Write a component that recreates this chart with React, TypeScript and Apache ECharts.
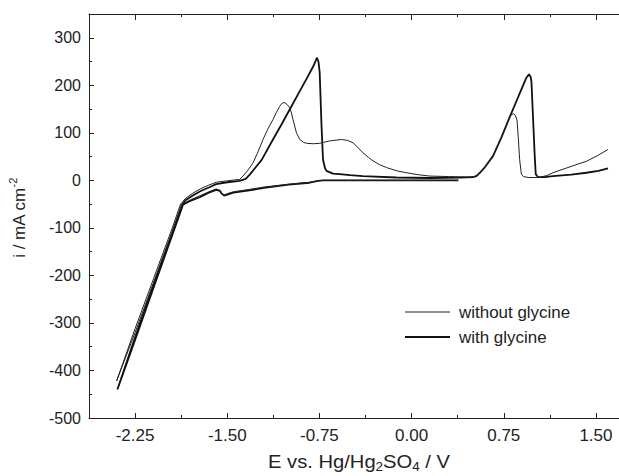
import React, { useEffect, useRef } from 'react';
import * as echarts from 'echarts';

// ---- data ----
const seriesNames = ['without glycine', 'with glycine'];

// with glycine (thick line): potential E (V) and current i (mA cm-2)
const withGlycineE = [
  0.38, 0.0, -0.40, -0.72, -0.76, -0.83, -1.0, -1.2, -1.32, -1.45, -1.50, -1.525, -1.545, -1.56, -1.59, -1.65, -1.72, -1.80, -1.86, -1.95, -2.10, -2.25, -2.394,
  -2.25, -2.10, -1.95, -1.87, -1.84, -1.78, -1.72, -1.65, -1.59, -1.50, -1.40, -1.35, -1.317, -1.28, -1.22, -1.128, -1.06, -0.992, -0.92, -0.856, -0.80, -0.78, -0.770, -0.758, -0.748, -0.734, -0.721, -0.705, -0.693, -0.64, -0.585, -0.50, -0.396, -0.124, 0.15, 0.40, 0.50,
  0.527, 0.56, 0.60, 0.662, 0.73, 0.798, 0.87, 0.934, 0.955, 0.968, 0.975, 0.990, 1.002, 1.010, 1.028, 1.08, 1.15, 1.30, 1.422, 1.52, 1.598,
];
const withGlycineI = [
  0, 0, 0, 0, -1, -5, -9, -16, -21, -26, -30, -32, -28, -22, -20, -26, -35, -43, -51, -117, -226, -336, -440,
  -330, -220, -112, -52, -42, -32, -23, -15, -8, -4, -1, 3, 12, 24, 43, 86, 117, 149, 183, 213, 240, 252, 258, 250, 227, 121, 44, 26, 20, 14, 13, 11, 9, 6, 5, 6, 7,
  9, 17, 29, 51, 90, 133, 177, 216, 223, 218, 208, 120, 50, 13, 7, 7, 9, 12, 16, 20, 25,
];

// without glycine (thin line)
const withoutGlycineE = [
  0.38, 0.0, -0.40, -0.72, -0.76, -0.83, -1.0, -1.2, -1.32, -1.45, -1.50, -1.525, -1.545, -1.56, -1.59, -1.65, -1.72, -1.80, -1.865, -1.95, -2.10, -2.25, -2.40,
  -2.25, -2.10, -1.95, -1.88, -1.84, -1.78, -1.72, -1.65, -1.59, -1.50, -1.40, -1.372, -1.33, -1.29, -1.25, -1.209, -1.17, -1.128, -1.10, -1.073, -1.055, -1.038, -1.015, -0.992, -0.978, -0.965, -0.937, -0.91, -0.88, -0.856, -0.80, -0.747, -0.666, -0.571, -0.52, -0.477, -0.44, -0.396, -0.35, -0.314, -0.26, -0.205, -0.12, -0.042, 0.05, 0.147, 0.30, 0.45,
  0.51, 0.54, 0.58, 0.62, 0.662, 0.73, 0.798, 0.815, 0.831, 0.845, 0.858, 0.868, 0.879, 0.893, 0.91, 0.95, 1.03, 1.10, 1.15, 1.25, 1.35, 1.422, 1.52, 1.598,
];
const withoutGlycineI = [
  0, 0, 0, 0, -1, -4, -8, -14, -19, -24, -28, -31, -27, -21, -18, -24, -32, -41, -50, -110, -215, -320, -422,
  -312, -207, -102, -50, -38, -27, -18, -10, -4, -1, 2, 9, 22, 37, 60, 86, 108, 128, 143, 156, 162, 164, 160, 153, 142, 128, 100, 86, 80, 78, 77, 78, 83, 86, 84, 79, 70, 58, 48, 41, 33, 27, 20, 16, 12, 9, 8, 7,
  8, 12, 22, 36, 51, 90, 133, 139, 140, 136, 126, 90, 44, 13, 8, 6, 6, 10, 16, 25, 34, 40, 53, 65,
];

const xMajorTicks = [-2.25, -1.5, -0.75, 0, 0.75, 1.5];
const xMinorTicks = [-2.625, -1.875, -1.125, -0.375, 0.375, 1.125];
const yMajorTicks = [-500, -400, -300, -200, -100, 0, 100, 200, 300];
const yMinorTicks = [-450, -350, -250, -150, -50, 50, 150, 250];

const FONT = 'Liberation Sans, Arial, Helvetica, sans-serif';
const AXIS_COLOR = '#222';

function zip(xs: number[], ys: number[]) {
  return xs.map((x, k) => [x, ys[k]]);
}

export default function App() {
  const ref = useRef<HTMLDivElement>(null);

  useEffect(() => {
    if (!ref.current) return;
    const chart = echarts.init(ref.current, undefined, { renderer: 'svg' });

    const xBase = {
      type: 'value' as const,
      min: -2.625,
      max: 1.6875,
      gridIndex: 0,
      splitLine: { show: false },
    };
    const yBase = {
      type: 'value' as const,
      min: -500,
      max: 350,
      gridIndex: 0,
      splitLine: { show: false },
    };

    const option: any = {
      animation: false,
      backgroundColor: '#fff',
      grid: { left: 89, right: 0, top: 14, bottom: 58, containLabel: false },
      xAxis: [
        {
          ...xBase,
          position: 'bottom',
          axisLine: { show: true, onZero: false, lineStyle: { color: AXIS_COLOR, width: 1 } },
          axisTick: { show: true, inside: true, length: 5, customValues: xMajorTicks, lineStyle: { color: AXIS_COLOR } },
          axisLabel: {
            customValues: xMajorTicks,
            formatter: (v: number) => v.toFixed(2),
            margin: 9,
            fontSize: 17,
            color: '#222',
            fontFamily: FONT,
          },
        },
        {
          ...xBase,
          position: 'top',
          axisLine: { show: true, onZero: false, lineStyle: { color: AXIS_COLOR, width: 1 } },
          axisTick: { show: true, inside: true, length: 6, customValues: xMajorTicks, lineStyle: { color: AXIS_COLOR } },
          axisLabel: { show: false },
        },
        {
          ...xBase,
          position: 'bottom',
          axisLine: { show: false, onZero: false },
          axisTick: { show: true, inside: true, length: 3, customValues: xMinorTicks, lineStyle: { color: AXIS_COLOR } },
          axisLabel: { show: false },
        },
        {
          ...xBase,
          position: 'top',
          axisLine: { show: false, onZero: false },
          axisTick: { show: true, inside: true, length: 3, customValues: xMinorTicks, lineStyle: { color: AXIS_COLOR } },
          axisLabel: { show: false },
        },
      ],
      yAxis: [
        {
          ...yBase,
          position: 'left',
          axisLine: { show: true, onZero: false, lineStyle: { color: AXIS_COLOR, width: 1 } },
          axisTick: { show: true, inside: true, length: 5, customValues: yMajorTicks, lineStyle: { color: AXIS_COLOR } },
          axisLabel: {
            customValues: yMajorTicks,
            margin: 8,
            fontSize: 16,
            color: '#222',
            fontFamily: FONT,
          },
        },
        {
          ...yBase,
          position: 'left',
          axisLine: { show: false, onZero: false },
          axisTick: { show: true, inside: true, length: 3, customValues: yMinorTicks, lineStyle: { color: AXIS_COLOR } },
          axisLabel: { show: false },
        },
      ],
      series: [
        {
          name: seriesNames[0],
          type: 'line',
          xAxisIndex: 0,
          yAxisIndex: 0,
          data: zip(withoutGlycineE, withoutGlycineI),
          showSymbol: false,
          symbol: 'none',
          lineStyle: { width: 1, color: '#222' },
          itemStyle: { color: '#222' },
          z: 3,
        },
        {
          name: seriesNames[1],
          type: 'line',
          xAxisIndex: 0,
          yAxisIndex: 0,
          data: zip(withGlycineE, withGlycineI),
          showSymbol: false,
          symbol: 'none',
          lineStyle: { width: 1.8, color: '#111' },
          itemStyle: { color: '#111' },
          z: 2,
        },
      ],
      graphic: [
        { type: 'line', shape: { x1: 405, y1: 312, x2: 450, y2: 312 }, style: { stroke: '#222', lineWidth: 1 } },
        { type: 'text', x: 459, y: 312, scaleX: 1.06, style: { text: seriesNames[0], fontSize: 16, fontFamily: FONT, fill: '#222', align: 'left', verticalAlign: 'middle' } },
        { type: 'line', shape: { x1: 405, y1: 337, x2: 450, y2: 337 }, style: { stroke: '#111', lineWidth: 1.8 } },
        { type: 'text', x: 459, y: 337, scaleX: 1.06, style: { text: seriesNames[1], fontSize: 16, fontFamily: FONT, fill: '#222', align: 'left', verticalAlign: 'middle' } },
        {
          type: 'text',
          x: 359,
          y: 462,
          scaleX: 1.12,
          style: {
            text: 'E vs. Hg/Hg{sub|2}SO{sub|4} / V',
            fontSize: 18,
            lineHeight: 20,
            fontFamily: FONT,
            fill: '#222',
            align: 'center',
            verticalAlign: 'middle',
            rich: {
              sub: { fontSize: 12, fontFamily: FONT, fill: '#222', verticalAlign: 'bottom', lineHeight: 22 },
            },
          },
        },
        {
          type: 'text',
          x: 19,
          y: 218,
          rotation: Math.PI / 2,
          style: {
            text: 'i / mA cm{sup|-2}',
            fontSize: 17,
            lineHeight: 20,
            fontFamily: FONT,
            fill: '#222',
            align: 'center',
            verticalAlign: 'middle',
            rich: {
              sup: { fontSize: 11, fontFamily: FONT, fill: '#222', verticalAlign: 'top', lineHeight: 24 },
            },
          },
        },
      ],
    };

    chart.setOption(option);
    return () => chart.dispose();
  }, []);

  return (
    <div
      ref={ref}
      style={{ position: 'fixed', left: 0, top: 0, width: 619, height: 476, background: '#fff' }}
    />
  );
}
